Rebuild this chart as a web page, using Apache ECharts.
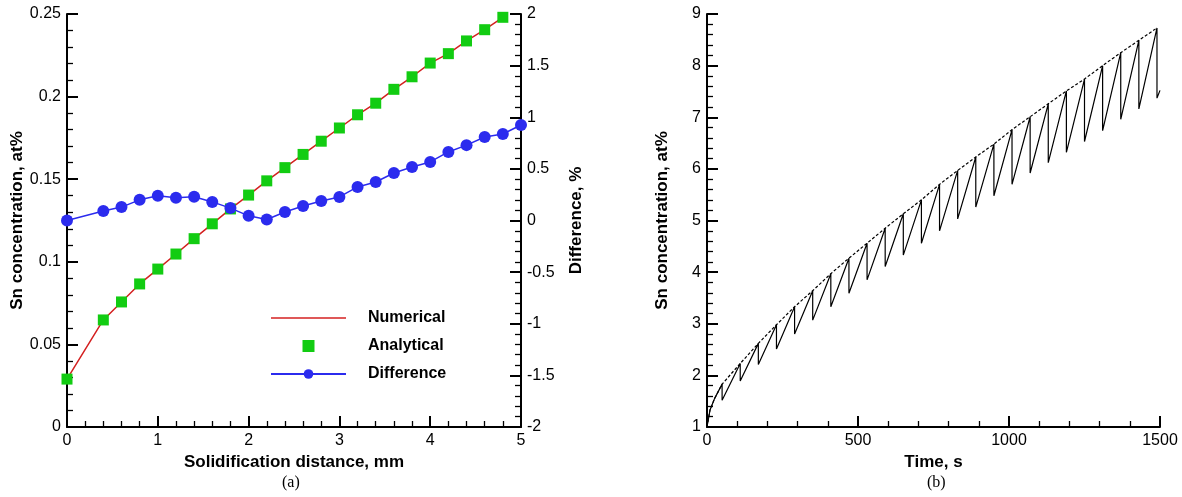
<!DOCTYPE html>
<html>
<head>
<meta charset="utf-8">
<script src="https://cdn.jsdelivr.net/npm/echarts@6/dist/echarts.min.js"></script>
<style>
html,body{margin:0;padding:0;background:#fff;}
#c{width:1182px;height:497px;}
</style>
</head>
<body>
<div id="c"></div>
<script>
// ---- Panel (a) data ----
const distX = [0, 0.4, 0.6, 0.8, 1.0, 1.2, 1.4, 1.6, 1.8, 2.0, 2.2, 2.4, 2.6, 2.8, 3.0, 3.2, 3.4, 3.6, 3.8, 4.0, 4.2, 4.4, 4.6, 4.8];
const analytical = [0.029, 0.0648, 0.0757, 0.0866, 0.0956, 0.1047, 0.114, 0.123, 0.132, 0.1404, 0.149, 0.157, 0.165, 0.173, 0.181, 0.189, 0.196, 0.2044, 0.212, 0.2203, 0.226, 0.2337, 0.2405, 0.248];
const numerical = [0.029, 0.0648, 0.0757, 0.0866, 0.0956, 0.1047, 0.114, 0.123, 0.132, 0.1404, 0.149, 0.157, 0.165, 0.173, 0.181, 0.189, 0.196, 0.2044, 0.212, 0.2203, 0.226, 0.2337, 0.2405, 0.248];
const diffX = [0, 0.4, 0.6, 0.8, 1.0, 1.2, 1.4, 1.6, 1.8, 2.0, 2.2, 2.4, 2.6, 2.8, 3.0, 3.2, 3.4, 3.6, 3.8, 4.0, 4.2, 4.4, 4.6, 4.8, 5.0];
const difference = [0.0, 0.092, 0.13, 0.2, 0.24, 0.22, 0.23, 0.18, 0.12, 0.045, 0.01, 0.082, 0.14, 0.189, 0.228, 0.325, 0.373, 0.46, 0.518, 0.567, 0.664, 0.73, 0.809, 0.838, 0.925];

// ---- Panel (b) data ----
const riseT = [0, 10, 25];
const riseC = [1.0, 1.33, 1.55];
const sawT = [50, 110, 170, 230, 290, 350, 410, 470, 530, 590, 650, 710, 770, 830, 890, 950, 1010, 1070, 1130, 1190, 1250, 1310, 1370, 1430, 1490];
const sawPeak = [1.83, 2.23, 2.62, 2.98, 3.33, 3.64, 3.97, 4.27, 4.56, 4.85, 5.13, 5.40, 5.70, 5.97, 6.23, 6.48, 6.76, 7.01, 7.26, 7.51, 7.74, 8.00, 8.25, 8.49, 8.73];
const sawTrough = [1.52, 1.89, 2.21, 2.51, 2.80, 3.07, 3.33, 3.59, 3.85, 4.11, 4.33, 4.56, 4.80, 5.03, 5.26, 5.48, 5.70, 5.92, 6.12, 6.32, 6.53, 6.74, 6.96, 7.16, 7.37];
const endT = 1500, endC = 7.52;

const FONT = 'Liberation Sans, Arial, Helvetica, sans-serif';

const numData = distX.map((x, i) => [x, numerical[i]]);
const anaData = distX.map((x, i) => [x, analytical[i]]);
const difData = diffX.map((x, i) => [x, difference[i]]);

const solid = riseT.map((t, i) => [t, riseC[i]]);
sawT.forEach((t, i) => { solid.push([t, sawPeak[i]]); solid.push([t, sawTrough[i]]); });
solid.push([endT, endC]);
const dashed = riseT.map((t, i) => [t, riseC[i]]);
sawT.forEach((t, i) => dashed.push([t, sawPeak[i]]));

function valAxis(extra) {
  return Object.assign({
    type: 'value',
    axisLine: { show: true, onZero: false, lineStyle: { color: '#000', width: 2 } },
    axisTick: { show: true, inside: true, length: 11, lineStyle: { color: '#000', width: 2 } },
    minorTick: { show: true, splitNumber: 5, length: 6, lineStyle: { color: '#000', width: 1.3 } },
    splitLine: { show: false },
    axisLabel: { color: '#000', fontSize: 16, fontFamily: FONT, margin: 6, formatter: v => String(+v.toFixed(4)) },
    nameLocation: 'middle',
    nameTextStyle: { color: '#000', fontSize: 17, fontWeight: 'bold', fontFamily: FONT }
  }, extra);
}

const chart = echarts.init(document.getElementById('c'), null, { renderer: 'canvas' });
chart.setOption({
  animation: false,
  backgroundColor: '#fff',
  grid: [
    { left: 67, right: 661, top: 14, bottom: 70 },
    { left: 707, right: 22, top: 14, bottom: 70 }
  ],
  xAxis: [
    valAxis({ gridIndex: 0, min: 0, max: 5, interval: 1, name: 'Solidification distance, mm', nameGap: 24 }),
    valAxis({ gridIndex: 1, min: 0, max: 1500, interval: 500, name: 'Time, s', nameGap: 24 })
  ],
  yAxis: [
    valAxis({ gridIndex: 0, min: 0, max: 0.25, interval: 0.05, name: 'Sn concentration, at%', nameGap: 40, nameRotate: 90 }),
    valAxis({ gridIndex: 0, position: 'right', min: -2, max: 2, interval: 0.5, name: 'Difference, %', nameGap: 47, nameRotate: 90 }),
    valAxis({ gridIndex: 1, min: 1, max: 9, interval: 1, name: 'Sn concentration, at%', nameGap: 36, nameRotate: 90 })
  ],
  legend: {
    left: 265, top: 305, orient: 'vertical',
    itemWidth: 75, itemHeight: 12, itemGap: 12,
    textStyle: { color: '#000', fontSize: 16, fontWeight: 'bold', fontFamily: FONT, padding: [0, 0, 0, 17] },
    data: [
      { name: 'Numerical', icon: 'path://M0,0h75v1.5h-75z' },
      { name: 'Analytical', icon: 'path://M0,0h11v11h-11z' },
      { name: 'Difference' }
    ]
  },
  series: [
    { name: 'Numerical', type: 'line', xAxisIndex: 0, yAxisIndex: 0, data: numData, symbol: 'none',
      lineStyle: { color: '#d42020', width: 1.5 }, itemStyle: { color: '#d42020' }, z: 2 },
    { name: 'Analytical', type: 'scatter', xAxisIndex: 0, yAxisIndex: 0, data: anaData, symbol: 'rect', symbolSize: 11,
      itemStyle: { color: '#12cc12', opacity: 1 }, z: 3 },
    { name: 'Difference', type: 'line', xAxisIndex: 0, yAxisIndex: 1, data: difData, symbol: 'circle', symbolSize: 12, showSymbol: true,
      lineStyle: { color: '#2b2bee', width: 1.5 }, itemStyle: { color: '#2b2bee' }, z: 4 },
    { name: 'saw', type: 'line', xAxisIndex: 1, yAxisIndex: 2, data: solid, symbol: 'none',
      lineStyle: { color: '#000', width: 1.2 } },
    { name: 'envelope', type: 'line', xAxisIndex: 1, yAxisIndex: 2, data: dashed, symbol: 'none',
      lineStyle: { color: '#000', width: 1.2, type: [3, 2] } }
  ],
  graphic: [
    { type: 'text', left: 282, top: 475, style: { text: '(a)', font: '16px "Liberation Serif", "Times New Roman", serif', fill: '#000' } },
    { type: 'text', left: 927, top: 475, style: { text: '(b)', font: '16px "Liberation Serif", "Times New Roman", serif', fill: '#000' } }
  ]
});
</script>
</body>
</html>
